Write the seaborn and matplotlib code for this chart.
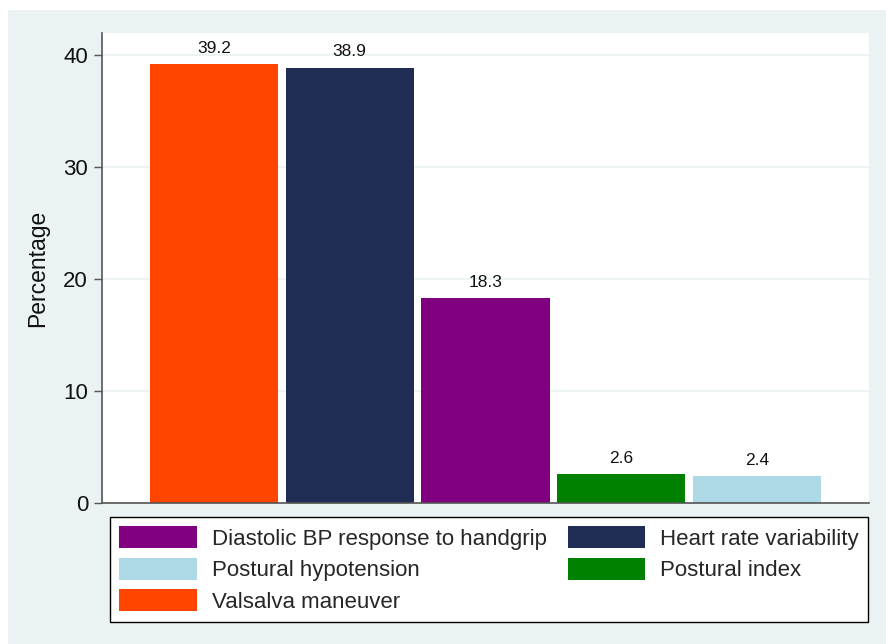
import matplotlib
matplotlib.use("Agg")
import matplotlib.pyplot as plt
from matplotlib.patches import Rectangle, Patch
import pandas as pd
import seaborn as sns

# data
tests = ["Valsalva maneuver", "Heart rate variability",
         "Diastolic BP response to handgrip", "Postural index",
         "Postural hypotension"]
pct = [39.2, 38.9, 18.3, 2.6, 2.4]
colors = ["#FF4500", "#1F2D55", "#800080", "#008000", "#ADD8E6"]
yticks = [0, 10, 20, 30, 40]

df = pd.DataFrame({"Test": tests, "Percentage": pct})
palette = dict(zip(tests, colors))

sns.set_theme(style="white")
plt.rcParams["font.family"] = ["Liberation Sans", "DejaVu Sans"]

fig = plt.figure(figsize=(8.86, 6.44), dpi=100, facecolor="white")
# Stata-like outer panel
fig.patches.append(Rectangle((8 / 886, 0), 1, 1 - 10 / 644, transform=fig.transFigure,
                             facecolor="#EAF2F3", edgecolor="none", zorder=-5))
ax = fig.add_axes([102 / 886, 1 - 503 / 644, (869 - 102) / 886, (503 - 33) / 644])
ax.set_zorder(2)
ax.set_facecolor("white")

sns.barplot(data=df, x="Test", y="Percentage", hue="Test", palette=palette,
            order=tests, hue_order=tests, width=0.943, dodge=False,
            saturation=1, linewidth=0, legend=False, ax=ax)

for cont in ax.containers:
    ax.bar_label(cont, fmt="%.1f", padding=6, fontsize=12.5, color="#111111")

ax.set_xlim(-0.825, 4.825)
ax.set_ylim(0, 42)
ax.set_yticks(yticks)
ax.set_xticks([])
ax.set_xlabel("")
ax.set_ylabel("Percentage", fontsize=16.5, labelpad=10, color="#111111")
ax.tick_params(axis="y", labelsize=16, length=6, width=1, color="#555555",
               pad=4, labelcolor="#111111", left=True)
ax.set_axisbelow(True)
ax.yaxis.grid(True, color="#EAF2F3", linewidth=1.2)
for side in ["top", "right"]:
    ax.spines[side].set_visible(False)
for side in ["left", "bottom"]:
    ax.spines[side].set_color("#555555")
    ax.spines[side].set_linewidth(1.2)

# legend, filled column by column so it reads row by row alphabetically
leg_order = ["Diastolic BP response to handgrip", "Postural hypotension",
             "Valsalva maneuver", "Heart rate variability", "Postural index"]
handles = [Patch(facecolor=palette[t], edgecolor="none") for t in leg_order]
leg = fig.legend(handles, leg_order, ncol=2, loc="upper left",
                 bbox_to_anchor=(110 / 886, 1 - 517 / 644),
                 fontsize=16, frameon=True, fancybox=False, shadow=False,
                 handlelength=3.5, handleheight=1.15, handletextpad=0.65,
                 columnspacing=0.95, labelspacing=0.35, borderpad=0.42,
                 borderaxespad=0)
leg.set_zorder(3)
leg.get_frame().set_edgecolor("black")
leg.get_frame().set_linewidth(1.0)
leg.get_frame().set_facecolor("white")
leg.get_frame().set_alpha(1)

fig.savefig("out.png", dpi=100, facecolor=fig.get_facecolor())
